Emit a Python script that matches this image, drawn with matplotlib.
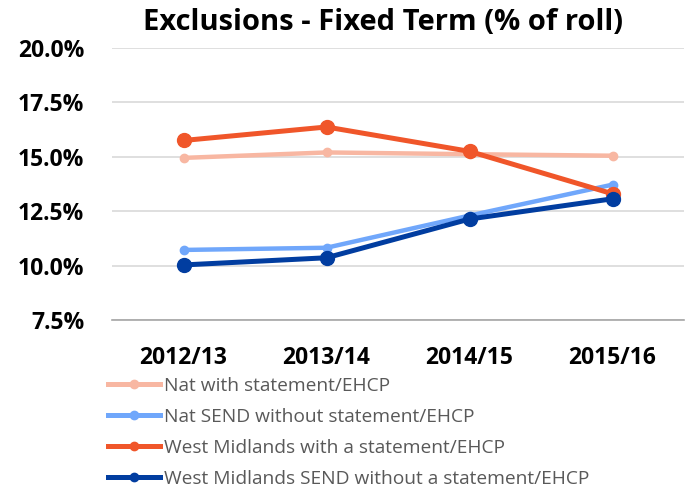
import matplotlib
matplotlib.use("Agg")
import matplotlib.pyplot as plt
from matplotlib.lines import Line2D
from matplotlib.ticker import FuncFormatter

plt.rcParams['font.family'] = ['Open Sans', 'DejaVu Sans']

years = ["2012/13", "2013/14", "2014/15", "2015/16"]
nat_with = [14.95, 15.2, 15.12, 15.05]
nat_send = [10.72, 10.82, 12.3, 13.72]
wm_with = [15.75, 16.37, 15.25, 13.3]
wm_send = [10.03, 10.36, 12.14, 13.07]

labels = ["Nat with statement/EHCP",
          "Nat SEND without statement/EHCP",
          "West Midlands with a statement/EHCP",
          "West Midlands SEND without a statement/EHCP"]
colors = ["#F8B7A2", "#70A7FB", "#F0562A", "#013DA0"]

fig = plt.figure(figsize=(6.92, 4.92), dpi=100)
ax = fig.add_axes([112/692, 1-320/492, (684-112)/692, (320-48)/492])

x = range(len(years))
ax.plot(x, nat_with, color=colors[0], lw=3.2, marker="o", ms=6, solid_capstyle="round")
ax.plot(x, nat_send, color=colors[1], lw=3.2, marker="o", ms=6, solid_capstyle="round")
ax.plot(x, wm_with, color=colors[2], lw=3.6, marker="o", ms=10)
ax.plot(x, wm_send, color=colors[3], lw=3.6, marker="o", ms=10)

ax.set_xlim(-0.5, 3.5)
ax.set_ylim(7.5, 20.0)
ax.set_yticks([7.5, 10.0, 12.5, 15.0, 17.5, 20.0])
ax.yaxis.set_major_formatter(FuncFormatter(lambda v, p: f"{v:.1f}%"))
ax.set_xticks(list(x))
ax.set_xticklabels(years)

ax.grid(axis="y", color="#D9D9D9", lw=1.2)
ax.set_axisbelow(True)
for s in ["top", "right", "left"]:
    ax.spines[s].set_visible(False)
ax.spines["bottom"].set_color("#A6A6A6")
ax.spines["bottom"].set_linewidth(1.2)
ax.tick_params(length=0)
ax.tick_params(axis="y", pad=20)
ax.tick_params(axis="x", pad=19)
for t in ax.get_xticklabels() + ax.get_yticklabels():
    t.set_fontsize(16.5)
    t.set_fontweight("bold")

fig.text(383/692, 1-23/492, "Exclusions - Fixed Term (% of roll)", ha="center", va="center",
         fontsize=21, fontweight="bold")

handles = [Line2D([], [], color=c, lw=3.6, marker="o", ms=6) for c in colors]
fig.legend(handles, labels, loc="upper left", bbox_to_anchor=(108/692, 1-377/492), frameon=False,
           fontsize=13.8, labelcolor="#595959", handlelength=2.7, handletextpad=0.2,
           labelspacing=0.68, borderaxespad=0, borderpad=0)

fig.savefig("out.png", dpi=100)
